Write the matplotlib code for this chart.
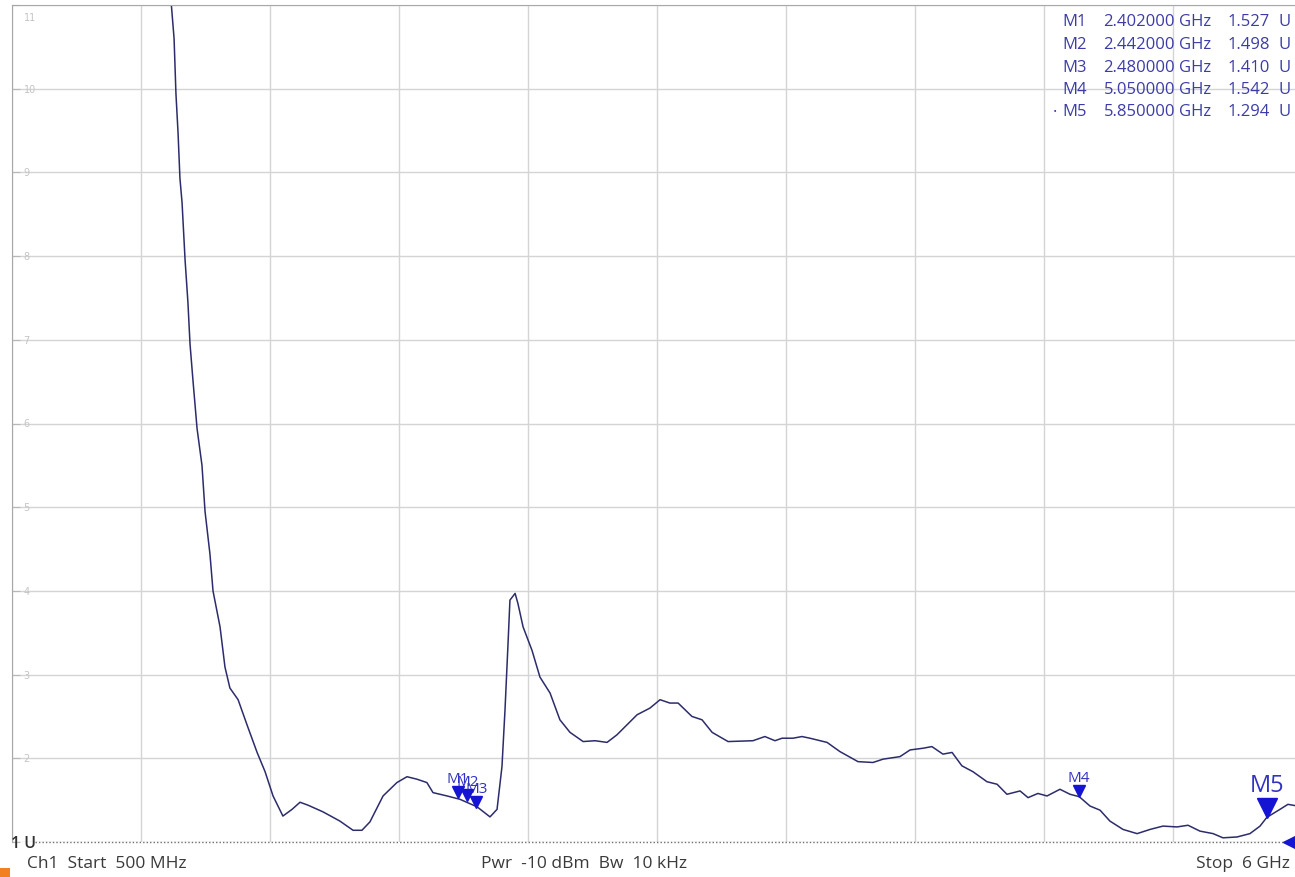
import numpy as np
import matplotlib
matplotlib.use("Agg")
import matplotlib.pyplot as plt
from matplotlib.patches import Rectangle
from matplotlib.transforms import offset_copy, blended_transform_factory

# SWR trace, Ch1, 500 MHz .. 6 GHz
freq_ghz = [1.178, 1.191, 1.199, 1.208, 1.216, 1.225, 1.238, 1.250, 1.259, 1.272,
            1.289, 1.310, 1.323, 1.344, 1.357, 1.387, 1.408, 1.429, 1.464, 1.502,
            1.545, 1.579, 1.613, 1.655, 1.694, 1.728, 1.762, 1.826, 1.898, 1.954,
            1.992, 2.026, 2.082, 2.141, 2.184, 2.227, 2.269, 2.295, 2.355, 2.410,
            2.483, 2.538, 2.568, 2.589, 2.602, 2.615, 2.623, 2.645, 2.657, 2.679,
            2.717, 2.751, 2.794, 2.836, 2.879, 2.935, 2.986, 3.037, 3.079, 3.165,
            3.220, 3.263, 3.305, 3.340, 3.399, 3.442, 3.485, 3.553, 3.659, 3.710,
            3.753, 3.783, 3.830, 3.868, 3.902, 3.975, 4.030, 4.107, 4.171, 4.214,
            4.286, 4.329, 4.384, 4.422, 4.469, 4.508, 4.550, 4.597, 4.657, 4.700,
            4.742, 4.798, 4.832, 4.874, 4.913, 4.968, 5.011, 5.050, 5.096, 5.139,
            5.181, 5.237, 5.297, 5.352, 5.407, 5.467, 5.514, 5.565, 5.621, 5.663,
            5.723, 5.778, 5.821, 5.850, 5.906, 5.940, 6.000]
swr = [11.05, 10.60, 9.94, 9.47, 8.93, 8.64, 7.95, 7.45, 6.95, 6.50,
       5.94, 5.50, 4.95, 4.44, 4.00, 3.57, 3.09, 2.84, 2.70, 2.40,
       2.07, 1.84, 1.55, 1.31, 1.39, 1.475, 1.44, 1.36, 1.25, 1.14,
       1.14, 1.24, 1.55, 1.71, 1.78, 1.75, 1.71, 1.59, 1.55, 1.51,
       1.42, 1.30, 1.39, 1.90, 2.58, 3.38, 3.89, 3.97, 3.85, 3.57,
       3.29, 2.97, 2.78, 2.46, 2.31, 2.20, 2.21, 2.19, 2.28, 2.52,
       2.60, 2.70, 2.66, 2.66, 2.50, 2.46, 2.31, 2.20, 2.21, 2.26,
       2.21, 2.24, 2.24, 2.26, 2.24, 2.19, 2.08, 1.96, 1.95, 1.99,
       2.02, 2.10, 2.12, 2.14, 2.05, 2.07, 1.91, 1.84, 1.72, 1.69,
       1.57, 1.61, 1.53, 1.58, 1.55, 1.63, 1.57, 1.542, 1.43, 1.38,
       1.25, 1.15, 1.10, 1.15, 1.19, 1.18, 1.20, 1.13, 1.10, 1.05,
       1.06, 1.10, 1.19, 1.294, 1.39, 1.45, 1.42]

marker_names = ["M1", "M2", "M3", "M4", "M5"]
marker_freq = [2.402, 2.442, 2.480, 5.050, 5.850]
marker_swr = [1.527, 1.498, 1.410, 1.542, 1.294]

W, H = 1295, 878
trace_col = "#2c2c6c"
mk_col = "#1414d2"
tbl_col = "#3c3ca8"
txt_col = "#3a3a3a"
FONT = "Open Sans"

fig = plt.figure(figsize=(W / 100, H / 100), dpi=100)
ax = fig.add_axes([12 / W, 35 / H, 1290 / W, 837 / H])
ax.set_xlim(0.5, 6.0)
ax.set_ylim(1, 11)

ax.set_xticks(np.linspace(0.5, 6.0, 11))
ax.set_yticks(range(1, 12))
ax.grid(True, color="#d4d4d4", lw=1.0)
ax.tick_params(axis="x", length=0, labelbottom=False)
ax.tick_params(axis="y", direction="in", length=6, color="#b8b8b8", labelleft=False)
for s in ["right", "bottom"]:
    ax.spines[s].set_visible(False)
for s in ["left", "top"]:
    ax.spines[s].set_color("#a8a8a8")

# faint scale numbers inside the grid
ytr = blended_transform_factory(ax.transAxes, ax.transData)
for v in range(2, 12):
    ax.text(0.009, v - (0.08 if v == 11 else 0), str(v), transform=ytr, fontsize=7,
            color="#c4c4c4", va="top" if v == 11 else "center", ha="left")

# reference line (starts after the "1 U" label)
ax.axhline(1, xmin=0.018, color="#707070", lw=1.0, ls=(0, (1, 1.5)), clip_on=False)

ax.plot(freq_ghz, swr, color=trace_col, lw=1.1)

# markers: triangle tip on the trace, label above
for i, (name, f, v) in enumerate(zip(marker_names, marker_freq, marker_swr)):
    active = i == len(marker_names) - 1
    ms = 14 if active else 8
    fs = 17 if active else 11
    tr = offset_copy(ax.transData, fig=fig, y=ms / 2, units="points")
    ax.plot([f], [v], marker="v", ms=ms, color=mk_col, mec=mk_col, transform=tr, zorder=5)
    tr2 = offset_copy(ax.transData, fig=fig, y=ms + 0.5, units="points")
    ax.text(f, v, name, transform=tr2, ha="center", va="bottom", fontsize=fs,
            color="#3232c4", family=FONT)

# reference level pointer at right edge
rtr = offset_copy(blended_transform_factory(ax.transAxes, ax.transData), fig=fig,
                  x=-8.5, units="points")
ax.plot([1.0], [1], marker="<", ms=10, color=mk_col, transform=rtr, clip_on=False)

# marker table
tfs = 12
for i, (name, f, v) in enumerate(zip(marker_names, marker_freq, marker_swr)):
    y = 1 - (22.5 + 22.5 * i) / H
    if i == len(marker_names) - 1:
        fig.text(1055 / W, y, "\u00b7", ha="center", va="center", fontsize=tfs,
                 color=tbl_col, family=FONT)
    fig.text(1062 / W, y, name, ha="left", va="center", fontsize=tfs, color=tbl_col, family=FONT)
    fig.text(1175 / W, y, f"{f:.6f}", ha="right", va="center", fontsize=tfs, color=tbl_col, family=FONT)
    fig.text(1179 / W, y, "GHz", ha="left", va="center", fontsize=tfs, color=tbl_col, family=FONT)
    fig.text(1270 / W, y, f"{v:.3f}", ha="right", va="center", fontsize=tfs, color=tbl_col, family=FONT)
    fig.text(1278 / W, y, "U", ha="left", va="center", fontsize=tfs, color=tbl_col, family=FONT)

# status texts
fig.text(11 / W, 1 - 844 / H, "1 U", ha="left", va="center", fontsize=11.5, color="#303030",
         family=FONT, fontweight="semibold")
fig.text(27 / W, 1 - 864 / H, "Ch1  Start  500 MHz", ha="left", va="center", fontsize=12.5,
         color=txt_col, family=FONT)
fig.text(584 / W, 1 - 864 / H, "Pwr  -10 dBm  Bw  10 kHz", ha="center", va="center",
         fontsize=12.5, color=txt_col, family=FONT)
fig.text(1290 / W, 1 - 864 / H, "Stop  6 GHz", ha="right", va="center", fontsize=12.5,
         color=txt_col, family=FONT)

fig.add_artist(Rectangle((0, 0), 10 / W, 9 / H, transform=fig.transFigure,
                         color="#f08020", lw=0))

fig.savefig("out.png", dpi=100)
